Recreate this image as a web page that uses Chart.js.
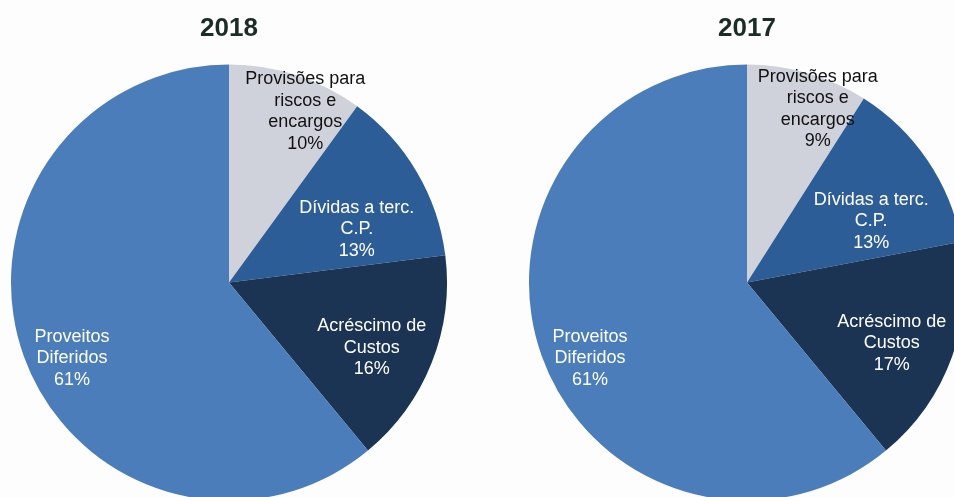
<!DOCTYPE html>
<html>
<head>
<meta charset="utf-8">
<script src="https://cdn.jsdelivr.net/npm/chart.js@4/dist/chart.umd.min.js"></script>
<style>
  html, body { margin: 0; padding: 0; width: 954px; height: 497px; overflow: hidden; background: #fdfdfd; }
  .box { position: absolute; top: 0; width: 460px; height: 510px; }
  #b1 { left: 0; }
  #b2 { left: 518px; }
</style>
</head>
<body>
<div class="box" id="b1"><canvas id="c1" width="460" height="510"></canvas></div>
<div class="box" id="b2"><canvas id="c2" width="460" height="510"></canvas></div>
<script>
const categories = ["Provisões para riscos e encargos", "Dívidas a terc. C.P.", "Acréscimo de Custos", "Proveitos Diferidos"];
const labelLines = [["Provisões para", "riscos e", "encargos"], ["Dívidas a terc.", "C.P."], ["Acréscimo de", "Custos"], ["Proveitos", "Diferidos"]];
const values2018 = [10, 13, 16, 61];
const values2017 = [9, 13, 17, 61];
const titles = ["2018", "2017"];

const colors = ["#cfd2da", "#2d5d96", "#1b3453", "#4a7dba"];
const textColors = ["#111111", "#ffffff", "#ffffff", "#ffffff"];
// label placement: fraction of radius and angle shift (deg) from slice mid-angle
const labelPlace = [{r: 0.86, da: 6}, {r: 0.635, da: 8}, {r: 0.72, da: 3}, {r: 0.80, da: -6}];

const labelPlugin = {
  id: 'sliceLabels',
  afterDatasetsDraw(chart) {
    const ctx = chart.ctx;
    const meta = chart.getDatasetMeta(0);
    const data = chart.data.datasets[0].data;
    const total = data.reduce((a, b) => a + b, 0);
    ctx.save();
    ctx.font = '18px "Liberation Sans", Arial, sans-serif';
    ctx.textAlign = 'center';
    ctx.textBaseline = 'middle';
    meta.data.forEach((arc, i) => {
      const p = arc.getProps(['x', 'y', 'startAngle', 'endAngle', 'outerRadius'], true);
      const mid = (p.startAngle + p.endAngle) / 2 + labelPlace[i].da * Math.PI / 180;
      const rr = p.outerRadius * labelPlace[i].r;
      const cx = p.x + Math.cos(mid) * rr;
      const cy = p.y + Math.sin(mid) * rr;
      const lines = labelLines[i].concat([Math.round(data[i] / total * 100) + '%']);
      const lh = 21.5;
      const y0 = cy - (lines.length - 1) * lh / 2;
      ctx.fillStyle = textColors[i];
      lines.forEach((t, k) => ctx.fillText(t, cx, y0 + k * lh));
    });
    ctx.restore();
  }
};

function makeChart(id, values, title) {
  return new Chart(document.getElementById(id), {
    type: 'pie',
    data: {
      labels: categories,
      datasets: [{ data: values, backgroundColor: colors, borderWidth: 0 }]
    },
    options: {
      responsive: false,
      animation: false,
      layout: { padding: { left: 11, right: 13, top: 0, bottom: 9 } },
      plugins: {
        legend: { display: false },
        tooltip: { enabled: false },
        title: {
          display: true,
          text: title,
          color: '#1c2d27',
          font: { family: '"Liberation Sans", Arial, sans-serif', size: 26, weight: 'bold', lineHeight: 1.2 },
          padding: { top: 13, bottom: 20 }
        }
      }
    },
    plugins: [labelPlugin]
  });
}

makeChart('c1', values2018, titles[0]);
makeChart('c2', values2017, titles[1]);
</script>
</body>
</html>
